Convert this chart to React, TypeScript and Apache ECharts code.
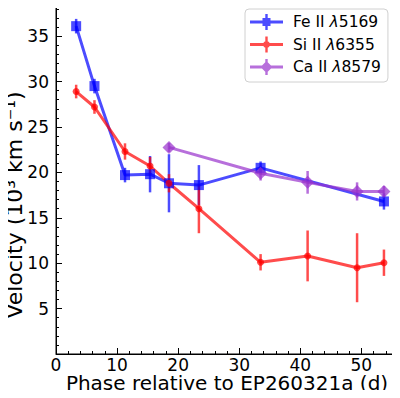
import React, { useEffect, useRef } from "react";
import * as echarts from "echarts";

const phaseFe = [3.3, 6.3, 11.3, 15.4, 18.5, 23.4, 33.5, 53.7];
const velFe = [36.1, 29.5, 19.7, 19.8, 18.8, 18.6, 20.5, 16.8];
const errFe = [0.8, 0.8, 0.8, 2.0, 3.2, 2.2, 0.7, 0.9];

const phaseSi = [3.3, 6.3, 11.3, 15.4, 18.5, 23.4, 33.5, 41.2, 49.3, 53.7];
const velSi = [28.9, 27.2, 22.3, 20.7, 18.8, 16.0, 10.1, 10.8, 9.5, 10.05];
const errSi = [0.75, 0.75, 0.9, 1.0, 1.0, 2.7, 0.9, 2.8, 3.8, 1.45];

const phaseCa = [18.5, 33.5, 41.2, 49.3, 53.7];
const velCa = [22.75, 19.9, 18.9, 17.9, 17.9];
const errCa = [0.5, 0.8, 1.25, 1.0, 0.6];

const xMajor = [0, 10, 20, 30, 40, 50];
const xMinor = [2, 4, 6, 8, 12, 14, 16, 18, 22, 24, 26, 28, 32, 34, 36, 38, 42, 44, 46, 48, 52, 54];
const yMajor = [5, 10, 15, 20, 25, 30, 35];
const yMinor = [1, 2, 3, 4, 6, 7, 8, 9, 11, 12, 13, 14, 16, 17, 18, 19, 21, 22, 23, 24, 26, 27, 28, 29, 31, 32, 33, 34, 36, 37, 38];

const xTitle = "Phase relative to EP260321a (d)";
const yTitle = "Velocity (10³ km s⁻¹)";

const FONT = "DejaVu Sans";
const BLUE = "rgba(0,0,255,0.7)";
const RED = "rgba(255,0,0,0.7)";
const PURPLE = "rgba(153,50,204,0.7)";

// legend icons (33 x 16 box): line + vertical error bar + marker
const iconFe =
  "path://M0,6.5L33,6.5L33,9.5L0,9.5Z M15.3,0L17.7,0L17.7,16L15.3,16Z M12.5,4L20.5,4L20.5,12L12.5,12Z";
const iconSi =
  "path://M0,6.5L33,6.5L33,9.5L0,9.5Z M15.3,0L17.7,0L17.7,16L15.3,16Z M16.5,4.5A3.5,3.5,0,1,1,16.49,4.5Z";
const iconCa =
  "path://M0,6.5L33,6.5L33,9.5L0,9.5Z M15.3,0L17.7,0L17.7,16L15.3,16Z M16.5,2L22.5,8L16.5,14L10.5,8Z";

function zip(xs: number[], ys: number[]) {
  return xs.map((x, i) => [x, ys[i]]);
}
function errData(xs: number[], ys: number[], es: number[]) {
  return xs.map((x, i) => [x, ys[i] - es[i], ys[i] + es[i]]);
}

function errSeries(name: string, data: number[][], color: string) {
  return {
    name,
    type: "custom",
    xAxisIndex: 0,
    yAxisIndex: 0,
    data,
    encode: { x: 0, y: [1, 2] },
    renderItem: (params: any, api: any) => {
      const p1 = api.coord([api.value(0), api.value(1)]);
      const p2 = api.coord([api.value(0), api.value(2)]);
      return {
        type: "line",
        shape: { x1: p1[0], y1: p1[1], x2: p2[0], y2: p2[1] },
        style: { stroke: color, lineWidth: 2.5 },
      };
    },
    z: 2,
  };
}

function lineSeries(name: string, data: number[][], color: string, symbol: string, size: number) {
  return {
    name,
    type: "line",
    xAxisIndex: 0,
    yAxisIndex: 0,
    data,
    symbol,
    symbolSize: size,
    showSymbol: true,
    lineStyle: { color, width: 3 },
    itemStyle: { color, borderWidth: 0 },
    emphasis: { disabled: true },
    z: 3,
  };
}

export default function App() {
  const ref = useRef<HTMLDivElement>(null);
  useEffect(() => {
    if (!ref.current) return;
    const chart = echarts.init(ref.current, undefined, { renderer: "svg" });
    const axisCommon = {
      type: "value",
      min: 0,
      splitLine: { show: false },
    };
    chart.setOption({
      animation: false,
      backgroundColor: "#fff",
      textStyle: { fontFamily: FONT },
      grid: {
        left: 56,
        right: 2,
        top: -2,
        bottom: 44,
        show: true,
        borderColor: "#000",
        borderWidth: 1,
        backgroundColor: "transparent",
        containLabel: false,
        outerBoundsMode: "none",
      },
      graphic: [
        {
          type: "text",
          x: 14,
          y: 205,
          rotation: Math.PI / 2,
          style: {
            text: yTitle,
            fontFamily: FONT,
            fontSize: 22,
            fill: "#000",
            align: "center",
            verticalAlign: "middle",
          },
        },
      ],
      legend: {
        left: 245,
        top: 9,
        orient: "vertical",
        padding: [5, 7, 7, 5],
        itemWidth: 33,
        itemHeight: 16,
        itemGap: 6.5,
        borderColor: "#d0d0d0",
        borderWidth: 1,
        borderRadius: 4,
        backgroundColor: "rgba(255,255,255,0.8)",
        selectedMode: false,
        textStyle: {
          fontFamily: FONT,
          fontSize: 15.5,
          color: "#000",
          padding: [0, 0, 0, 5],
          rich: {
            i: { fontFamily: FONT, fontStyle: "italic", fontSize: 15.5, color: "#000" },
          },
        },
        formatter: (name: string) => name.replace("λ", "{i|λ}"),
        data: [
          { name: "Fe II λ5169", icon: iconFe, itemStyle: { color: BLUE } },
          { name: "Si II λ6355", icon: iconSi, itemStyle: { color: RED } },
          { name: "Ca II λ8579", icon: iconCa, itemStyle: { color: PURPLE } },
        ],
      },
      xAxis: [
        {
          ...axisCommon,
          max: 56,
          position: "bottom",
          name: xTitle,
          nameLocation: "middle",
          nameGap: 19,
          nameMoveOverlap: false,
          nameTextStyle: { fontFamily: FONT, fontSize: 20, lineHeight: 20, color: "#000" },
          axisLine: { show: true, onZero: false, lineStyle: { color: "#000", width: 1 } },
          axisTick: { show: true, inside: true, length: 6, customValues: xMajor, lineStyle: { color: "#000" } },
          axisLabel: {
            show: true,
            customValues: xMajor,
            fontFamily: FONT,
            fontSize: 17,
            lineHeight: 12,
            color: "#000",
            margin: 5,
          },
        },
        {
          ...axisCommon,
          max: 56,
          position: "bottom",
          axisLine: { show: false },
          axisTick: { show: true, inside: true, length: 3, customValues: xMinor, lineStyle: { color: "#000" } },
          axisLabel: { show: false },
        },
      ],
      yAxis: [
        {
          ...axisCommon,
          max: 39.2,
          position: "left",
          axisLine: { show: true, onZero: false, lineStyle: { color: "#000", width: 1 } },
          axisTick: { show: true, inside: true, length: 6, customValues: yMajor, lineStyle: { color: "#000" } },
          axisLabel: { show: true, customValues: yMajor, fontFamily: FONT, fontSize: 17, color: "#000", margin: 7 },
        },
        {
          ...axisCommon,
          max: 39.2,
          position: "left",
          axisLine: { show: false },
          axisTick: { show: true, inside: true, length: 3, customValues: yMinor, lineStyle: { color: "#000" } },
          axisLabel: { show: false },
        },
      ],
      series: [
        errSeries("feErr", errData(phaseFe, velFe, errFe), BLUE),
        lineSeries("Fe II λ5169", zip(phaseFe, velFe), BLUE, "rect", 10),
        errSeries("siErr", errData(phaseSi, velSi, errSi), RED),
        lineSeries("Si II λ6355", zip(phaseSi, velSi), RED, "circle", 7),
        errSeries("caErr", errData(phaseCa, velCa, errCa), PURPLE),
        lineSeries("Ca II λ8579", zip(phaseCa, velCa), PURPLE, "diamond", 13),
      ],
    });
    return () => chart.dispose();
  }, []);
  return <div ref={ref} style={{ width: 400, height: 398, margin: -8 }} />;
}
